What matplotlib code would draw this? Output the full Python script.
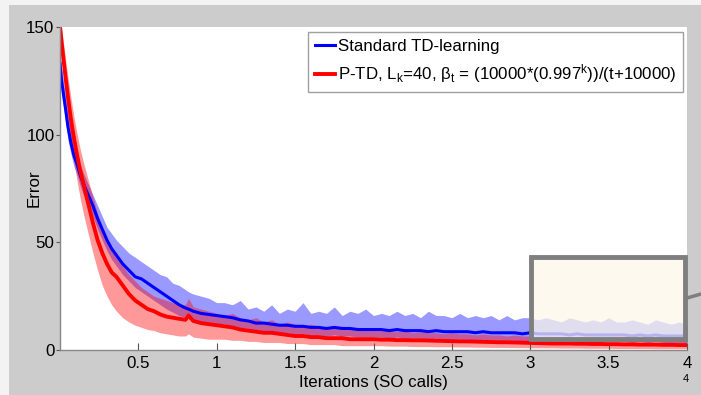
import matplotlib.pyplot as plt
from matplotlib.patches import Rectangle
from matplotlib.lines import Line2D

plt.rcParams['font.family'] = ['Liberation Sans', 'DejaVu Sans']
plt.rcParams['mathtext.fontset'] = 'custom'
plt.rcParams['mathtext.rm'] = 'Liberation Sans'
plt.rcParams['mathtext.it'] = 'Liberation Sans'

# iterations (x 10^4)
iters = [0, 0.01, 0.03, 0.05, 0.07, 0.09, 0.11, 0.13, 0.15, 0.18, 0.21, 0.24, 0.27, 0.30, 0.33, 0.36,
         0.40, 0.44, 0.48, 0.52, 0.56, 0.60, 0.64, 0.68, 0.72, 0.76, 0.80, 0.82, 0.85, 0.90, 0.95, 1.00,
         1.05, 1.10, 1.15, 1.20, 1.25, 1.30, 1.35, 1.40, 1.45, 1.50,
         1.55, 1.60, 1.65, 1.70, 1.75, 1.80, 1.85, 1.90, 1.95, 2.00,
         2.05, 2.10, 2.15, 2.20, 2.25, 2.30, 2.35, 2.40, 2.45, 2.50,
         2.55, 2.60, 2.65, 2.70, 2.75, 2.80, 2.85, 2.90, 2.95, 3.00,
         3.05, 3.10, 3.15, 3.20, 3.25, 3.30, 3.35, 3.40, 3.45, 3.50,
         3.55, 3.60, 3.65, 3.70, 3.75, 3.80, 3.85, 3.90, 3.95, 4.00]

# standard TD-learning
td_mean = [133, 125, 115, 104, 96, 90, 86, 81, 77, 72, 67, 61, 56, 51, 47, 44,
           40, 37, 34, 33, 31, 29, 27, 25, 23, 21, 19.5, 19, 18, 17, 16.5, 16,
           15.5, 15, 14, 13.5, 12.5, 12.5, 12, 11.5, 11.5, 11,
           11, 10.5, 10.5, 10, 10.5, 10, 10, 9.5, 9.5, 9.5,
           9.5, 9, 9.5, 9, 9, 9, 8.5, 9, 8.5, 8.5,
           8.5, 8.5, 8, 8.5, 8, 8, 8, 8, 7.5, 8,
           7.5, 7.5, 7.5, 7.5, 7, 7.5, 7, 7, 7, 7,
           7, 7, 6.5, 7, 6.5, 7, 6.5, 6.5, 6.5, 6.5]
td_hi = [140, 132, 121, 110, 101, 95, 91, 86, 82, 77, 72, 67, 62, 57, 54, 51,
         48, 45, 43, 41, 39, 37, 35, 34, 31, 30, 28, 27, 26, 25, 24, 22,
         22, 21, 23, 19, 20, 18, 21, 17, 19, 18,
         22, 17, 18, 17, 20, 16, 18, 17, 19, 16,
         17, 16, 18, 16, 17, 15, 18, 16, 16, 15,
         17, 15, 16, 15, 16, 14, 16, 14, 15, 15,
         14, 15, 14, 13, 15, 14, 13, 14, 13, 15,
         13, 13, 14, 13, 12, 14, 13, 12, 13, 12]
td_lo = [126, 118, 109, 98, 91, 85, 81, 76, 72, 67, 62, 56, 51, 46, 42, 39,
         35, 32, 29, 27, 25, 23, 21, 19, 17.5, 16, 15, 14.5, 14, 13, 12.5, 12,
         12, 11.5, 10.5, 10, 9, 9, 8.5, 8, 8, 7.5,
         7.5, 7, 7, 6.5, 7, 6.5, 6.5, 6, 6, 6,
         6, 5.5, 6, 5.5, 5.5, 5.5, 5, 5.5, 5, 5,
         5, 5, 4.5, 5, 4.5, 4.5, 4.5, 4.5, 4, 4.5,
         4, 4, 4, 4, 4, 4, 4, 4, 4, 4,
         4, 4, 3.5, 4, 3.5, 4, 3.5, 3.5, 3.5, 3.5]

# P-TD
ptd_mean = [150, 143, 130, 118, 107, 98, 90, 83, 77, 68, 59, 51, 45, 40, 36, 34,
            30, 26, 23, 21, 19, 18, 16.5, 15.5, 15, 14.5, 14, 16, 13.5, 12.5, 12, 11.5,
            11, 10.5, 9.5, 9, 8.5, 8, 8, 7.5, 7, 6.5,
            6.5, 6, 6, 5.5, 5.5, 5.5, 5, 5, 5, 5,
            4.8, 4.8, 4.6, 4.6, 4.5, 4.5, 4.4, 4.3, 4.2, 4.1,
            4, 4, 3.9, 3.8, 3.7, 3.6, 3.6, 3.5, 3.4, 3.3,
            3.2, 3.1, 3, 3, 3, 2.9, 2.9, 2.8, 2.8, 2.7,
            2.7, 2.6, 2.6, 2.5, 2.5, 2.5, 2.4, 2.4, 2.3, 2.3]
ptd_hi = [156, 150, 138, 127, 117, 108, 100, 93, 87, 79, 71, 63, 57, 51, 46, 43,
          39, 35, 32, 29, 27, 25, 24, 23, 22, 21, 21, 24, 20, 19, 18, 17,
          16, 17, 15, 14, 15, 13, 14, 12, 13, 12,
          11, 12, 11, 10, 11, 10, 10, 9, 10, 9,
          9, 9, 8.5, 9, 8, 8.5, 8, 8, 7.5, 8,
          7.5, 7.5, 7, 7.5, 7, 7, 6.5, 7, 6.5, 6.5,
          6, 6.5, 6, 6, 6, 5.5, 6, 5.5, 5.5, 5.5,
          5, 5.5, 5, 5, 5, 5, 4.5, 5, 4.5, 4.5]
ptd_lo = [144, 136, 122, 109, 97, 87, 78, 70, 63, 54, 45, 37, 30, 25, 21, 18,
          15, 13, 11.5, 10.5, 9.5, 9, 8, 7.5, 7, 6.5, 6.5, 7.5, 6, 5.5, 5, 5,
          5, 4.5, 4.5, 4, 4, 3.5, 3.5, 3.5, 3, 3,
          3, 2.5, 2.5, 2.5, 2.5, 2, 2, 2, 2, 2,
          2, 1.8, 1.8, 1.8, 1.6, 1.6, 1.6, 1.5, 1.5, 1.5,
          1.4, 1.4, 1.3, 1.3, 1.2, 1.2, 1.2, 1.1, 1.1, 1,
          1, 1, 1, 0.9, 0.9, 0.9, 0.8, 0.8, 0.8, 0.8,
          0.7, 0.7, 0.7, 0.7, 0.7, 0.6, 0.6, 0.6, 0.6, 0.6]

xticks = [0.5, 1, 1.5, 2, 2.5, 3, 3.5, 4]
xticklabels = ['0.5', '1', '1.5', '2', '2.5', '3', '3.5', '4']
yticks = [0, 50, 100, 150]
labels = ['Standard TD-learning',
          r'P-TD, L$_\mathrm{k}$=40, β$_\mathrm{t}$ = (10000*(0.997$^\mathrm{k}$))/(t+10000)']

fig = plt.figure(figsize=(7.01, 3.95), dpi=100, facecolor='#f3f3f3')
# gray slide panel behind the axes
fig.add_artist(Rectangle((9 / 701, 0), 1, 390 / 395, transform=fig.transFigure,
                         facecolor='#cccccc', edgecolor='none', zorder=0))

ax = fig.add_axes([60 / 701, 45 / 395, 627 / 701, 323 / 395])
ax.set_facecolor('white')

ax.fill_between(iters, td_lo, td_hi, color='blue', alpha=0.4, lw=0)
l1, = ax.plot(iters, td_mean, color='blue', lw=2.2)
ax.fill_between(iters, ptd_lo, ptd_hi, color='red', alpha=0.4, lw=0)
l2, = ax.plot(iters, ptd_mean, color='red', lw=2.8)

ax.set_xlim(0, 4)
ax.set_ylim(0, 150)
ax.set_xticks(xticks)
ax.set_xticklabels(xticklabels)
ax.set_yticks(yticks)
ax.tick_params(axis='x', direction='in', length=5, pad=4, labelsize=12.2, color='#555555')
ax.tick_params(axis='y', direction='out', length=3, pad=1, labelsize=12.2, color='#555555')
for s in ['top', 'right']:
    ax.spines[s].set_visible(False)
for s in ['bottom', 'left']:
    ax.spines[s].set_color('#888888')
    ax.spines[s].set_linewidth(1)

ax.set_xlabel('Iterations (SO calls)', fontsize=12.2)
ax.xaxis.set_label_coords(0.5, -0.078)
ax.set_ylabel('Error', fontsize=12.2)
ax.yaxis.set_label_coords(-0.029, 0.5)
ax.text(3.99, -0.075, '4', transform=ax.get_xaxis_transform(), fontsize=8,
        ha='center', va='top')

leg = ax.legend([l1, l2], labels, loc='upper right', bbox_to_anchor=(0.9936, 0.9845),
                borderaxespad=0, fontsize=12.2, handlelength=1.2, handletextpad=0.15,
                labelspacing=0.5, borderpad=0.4, fancybox=False, framealpha=1,
                edgecolor='#a0a0a0')
leg.get_frame().set_linewidth(1)

# highlight box over the tail
ax.add_patch(Rectangle((3.005, 5.1), 0.982, 37.9, facecolor=(0.992, 0.972, 0.918, 0.72),
                       edgecolor='#7f7f7f', lw=3.5, clip_on=False, zorder=5))
fig.add_artist(Line2D([687 / 701, 1.0], [1 - 298 / 395, 1 - 294 / 395],
                      transform=fig.transFigure, color='#7f7f7f', lw=2.5))

fig.savefig('out.png', dpi=100, facecolor=fig.get_facecolor())
